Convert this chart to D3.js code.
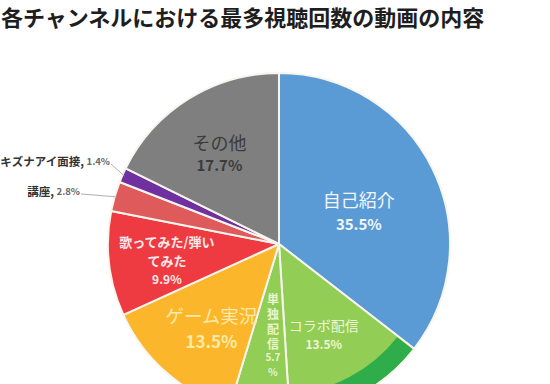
<!DOCTYPE html>
<html>
<head>
<meta charset="utf-8">
<script src="https://cdn.jsdelivr.net/npm/d3@7"></script>
<style>
  body { margin: 0; background: #fff; }
  text { font-family: "Noto Sans CJK JP", "Noto Sans", sans-serif; }
</style>
</head>
<body>
<script>
// chart data, clockwise from 12 o'clock
var categories = ["自己紹介", "コラボ配信", "単独配信", "ゲーム実況", "歌ってみた/弾いてみた", "講座", "キズナアイ面接", "その他"];
var values = [35.5, 13.5, 5.7, 13.5, 9.9, 2.8, 1.4, 17.7];
var colors = ["#5b9bd5", "#92cd55", "#92cd55", "#fbb62c", "#ee3b42", "#df5b5b", "#7030a0", "#7f7f7f"];
var title = "各チャンネルにおける最多視聴回数の動画の内容";

var w = 550, h = 384;
var cx = 279, cy = 244, r = 171;

var svg = d3.select("body").append("svg")
    .attr("width", w)
    .attr("height", h);

svg.append("text")
    .attr("x", 1)
    .attr("y", 26)
    .attr("font-size", 22)
    .attr("font-weight", 700)
    .attr("fill", "#1e1e1e")
    .text(title);

var data = categories.map(function(c, i){
    return { name: c, value: values[i], color: colors[i] };
});

var pie = d3.pie().sort(null).value(function(d){ return d.value; });
var arcs = pie(data);

var arc = d3.arc().innerRadius(0).outerRadius(r);

var g = svg.append("g").attr("transform", "translate(" + cx + "," + cy + ")");

g.selectAll(".slice")
    .data(arcs)
    .enter()
    .append("path")
    .attr("class", "slice")
    .attr("d", arc)
    .attr("fill", function(d){ return d.data.color; })
    .attr("stroke", "#f7f5ee")
    .attr("stroke-width", 2)
    .attr("stroke-linejoin", "round");

// darker outer band on the collab slice
var collab = arcs[1];
g.append("path")
    .attr("d", d3.arc().innerRadius(r * 0.88).outerRadius(r - 1)({
        startAngle: collab.startAngle + 0.008,
        endAngle: collab.endAngle - 0.008
    }))
    .attr("fill", "#2fad4b");

// label helpers
function polar(d, k){
    return d3.arc().innerRadius(r * k).outerRadius(r * k).centroid(d);
}

// inside labels: lines of [text, size, weight, y offset]
var inside = [
    { i: 0, k: 0.52, fill: "#f2f6fb", lines: [["自己紹介", 18, 400, -6], ["35.5%", 15, 700, 18]] },
    { i: 7, k: 0.66, fill: "#3c3c3c", lines: [["その他", 18, 400, -6], ["17.7%", 15, 700, 16]] },
    { i: 4, k: 0.66, fill: "#fbeaea", lines: [["歌ってみた/弾い", 13, 700, -16], ["てみた", 13, 700, 3], ["9.9%", 12, 700, 21]] },
    { i: 3, k: 0.6, fill: "#fdeaa8", lines: [["ゲーム実況", 18.5, 400, -6], ["13.5%", 17, 700, 19]] },
    { i: 1, k: 0.56, fill: "#eef7d6", lines: [["コラボ配信", 14, 400, -4], ["13.5%", 12, 700, 14]] }
];

inside.forEach(function(l){
    var p = polar(arcs[l.i], l.k);
    var t = g.append("text")
        .attr("text-anchor", "middle")
        .attr("dominant-baseline", "central")
        .attr("fill", l.fill);
    l.lines.forEach(function(ln){
        t.append("tspan")
            .attr("x", p[0])
            .attr("y", p[1] + ln[3])
            .attr("font-size", ln[1])
            .attr("font-weight", ln[2])
            .text(ln[0]);
    });
});

// solo slice: name set vertically, value below
var solo = arcs[2];
var sp = polar(solo, 0.56);
g.append("text")
    .attr("x", sp[0] + 5)
    .attr("y", sp[1] - 46)
    .style("writing-mode", "vertical-rl")
    .style("text-orientation", "upright")
    .attr("letter-spacing", 3)
    .attr("font-size", 12)
    .attr("font-weight", 700)
    .attr("fill", "#e9f5cf")
    .text(solo.data.name);
[["5.7", 17], ["%", 32]].forEach(function(s){
    g.append("text")
        .attr("x", sp[0] + 5)
        .attr("y", sp[1] + s[1])
        .attr("text-anchor", "middle")
        .attr("dominant-baseline", "central")
        .attr("font-size", 10)
        .attr("font-weight", 700)
        .attr("fill", "#e9f5cf")
        .text(s[0]);
});

// outside labels with leader lines
var outside = [
    { i: 6, tx: -169, ty: -83, pct: "1.4%" },
    { i: 5, tx: -199, ty: -53, pct: "2.8%" }
];

outside.forEach(function(l){
    var a = arcs[l.i];
    var edge = d3.arc().innerRadius(r - 2).outerRadius(r - 2).centroid(a);
    g.append("line")
        .attr("x1", l.tx + 1)
        .attr("y1", l.ty + 3)
        .attr("x2", edge[0])
        .attr("y2", edge[1])
        .attr("stroke", "#b0b0b0")
        .attr("stroke-width", 1);
    var t = g.append("text")
        .attr("x", l.tx)
        .attr("y", l.ty)
        .attr("text-anchor", "end")
        .attr("dominant-baseline", "central");
    t.append("tspan")
        .attr("font-size", 11.5)
        .attr("font-weight", 700)
        .attr("fill", "#333")
        .text(a.data.name + ", ");
    t.append("tspan")
        .attr("font-size", 9.5)
        .attr("font-weight", 700)
        .attr("fill", "#666")
        .text(l.pct);
});
</script>
</body>
</html>
